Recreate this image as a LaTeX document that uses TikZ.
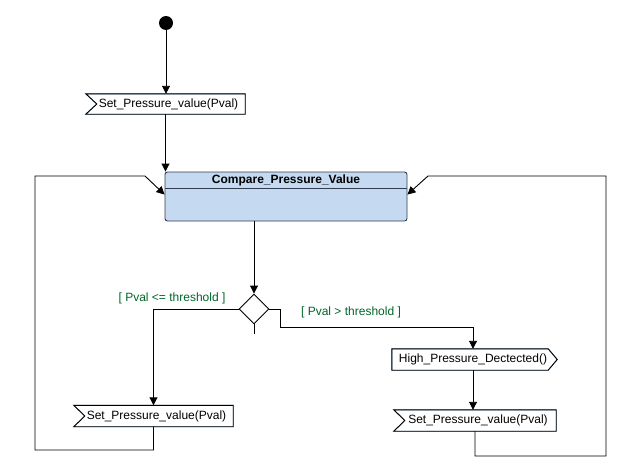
\documentclass[tikz,border=0pt]{standalone}
\usepackage{fontspec}
\setmainfont{Liberation Sans}
\usetikzlibrary{arrows.meta,calc,shapes.geometric}
\definecolor{actfill}{RGB}{197,218,240}
\definecolor{actborder}{RGB}{50,60,80}
\definecolor{guardgreen}{RGB}{0,100,40}
\definecolor{sigshadow}{RGB}{140,180,215}

% outline of a receive-signal box (notch on the west side)
\newcommand\recvoutline[1]{%
  \draw[sigshadow, line width=0.9pt, shift={(-1.3,1.3)}]
    (#1.north west) -- (#1.north east) -- (#1.south east) -- (#1.south west)
    -- ($(#1.west)+(11,0)$) -- cycle;
  \draw[line width=0.9pt]
    (#1.north west) -- (#1.north east) -- (#1.south east) -- (#1.south west)
    -- ($(#1.west)+(11,0)$) -- cycle;}
% outline of a send-signal box (point on the east side)
\newcommand\sendoutline[1]{%
  \draw[sigshadow, line width=0.9pt, shift={(-1.3,1.3)}]
    (#1.north west) -- (#1.north east) -- ($(#1.east)+(9,0)$) -- (#1.south east)
    -- (#1.south west) -- cycle;
  \draw[line width=0.9pt]
    (#1.north west) -- (#1.north east) -- ($(#1.east)+(9,0)$) -- (#1.south east)
    -- (#1.south west) -- cycle;}

\begin{document}
\begin{tikzpicture}[x=1pt, y=-1pt,
  font=\fontsize{12}{14}\selectfont,
  flow/.style={draw=black, line width=0.9pt, -{Triangle[length=8pt,width=8pt]}},
  wire/.style={draw=black, line width=0.9pt},
  sigbox/.style={rectangle, draw=none, minimum width=160pt, minimum height=21pt, inner sep=0pt},
  guard/.style={text=guardgreen},
]
\useasboundingbox (0,0) rectangle (628,474);

% initial node
\node[circle, fill=black, minimum size=14pt, inner sep=0pt] (start) at (166,23) {};

% signal boxes
\node[sigbox, minimum width=159pt, minimum height=20pt] (recv1) at (165.5,104) {};
\node at (168.5,104) {Set\_Pressure\_value(Pval)};
\recvoutline{recv1}

\node[sigbox, minimum width=159pt] (recvL) at (153.5,416) {};
\node at (156.5,416) {Set\_Pressure\_value(Pval)};
\recvoutline{recvL}

\node[sigbox, minimum width=156pt] (send) at (470,359.5) {};
\node at (473,359.5) {High\_Pressure\_Dectected()};
\sendoutline{send}

\node[sigbox, minimum width=162pt] (recvR) at (475,420.5) {};
\node at (478,420.5) {Set\_Pressure\_value(Pval)};
\recvoutline{recvR}

% action state
\node[draw=actborder, fill=actfill, rounded corners=2.5pt, line width=0.9pt,
      minimum width=242pt, minimum height=49pt, inner sep=0pt] (comp) at (286,196.5) {};
\draw[actborder, line width=0.9pt] ($(comp.north west)+(0,17)$) -- ($(comp.north east)+(0,17)$);
\node[font=\fontsize{12}{14}\selectfont\bfseries] (comptitle) at ($(comp.north)+(0,9)$) {Compare\_Pressure\_Value};

% decision
\node[diamond, draw, line width=0.9pt, minimum width=30pt, minimum height=30pt, inner sep=0pt] (dec) at (254,309) {};

% guards
\node[guard] (gle) at (172,298) {[ Pval <= threshold ]};
\node[guard] (ggt) at (351,312) {[ Pval > threshold ]};

% routing points
\coordinate (rbend) at (280,327);
\coordinate (rcol) at (473,0);
\coordinate (lcorner) at (35,450);
\coordinate (lentry) at (145,176);
\coordinate (rcorner) at (606,456);
\coordinate (rentry) at (428,176);

% transitions
\draw[flow] (start) -- (start |- recv1.north);
\draw[flow] (recv1.south) -- (recv1.south |- comp.north);
\draw[flow] (comp.south -| dec) -- (dec.north);
\draw[wire] (dec.south) -- ++(0,10);
\draw[flow] (dec.west) -| (recvL.north);
\draw[flow] (dec.east) -| (rbend) -| (rcol |- send.north);
\draw[flow] (rcol |- send.south) -- (rcol |- recvR.north);
\draw[flow] (recvL.south) |- (lcorner) |- (lentry) -- ($(comp.north west)+(0,23)$);
\draw[flow] (recvR.south) |- (rcorner) |- (rentry) -- ($(comp.north east)+(0,23)$);
\end{tikzpicture}
\end{document}
